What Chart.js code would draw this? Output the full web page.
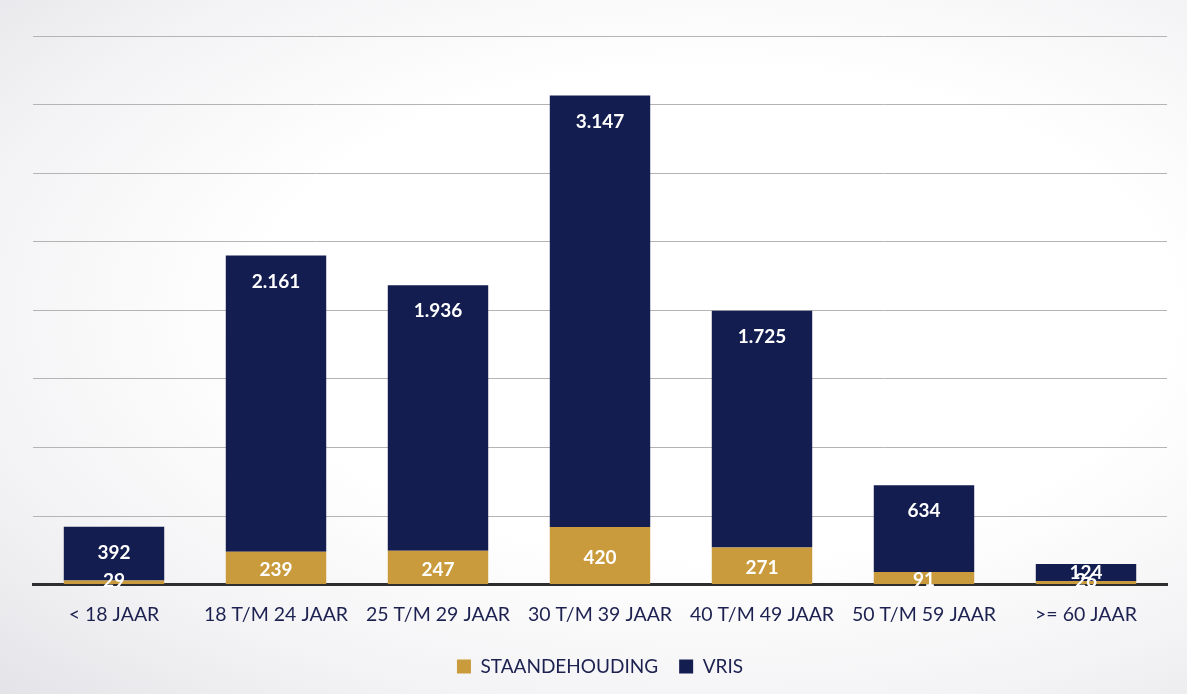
<!DOCTYPE html>
<html>
<head>
<meta charset="utf-8">
<script src="https://cdn.jsdelivr.net/npm/chart.js@4/dist/chart.umd.min.js"></script>
<style>
  html, body { margin: 0; padding: 0; }
  body {
    width: 1187px; height: 694px; overflow: hidden;
    background: radial-gradient(ellipse at 60% 45%, #ffffff 45%, #f3f3f5 75%, #e4e4e8 100%);
  }
  #wrap { width: 1187px; height: 694px; }
</style>
</head>
<body>
<div id="wrap"><canvas id="chart"></canvas></div>
<script>
// Chart data
const categories = ["< 18 JAAR", "18 T/M 24 JAAR", "25 T/M 29 JAAR", "30 T/M 39 JAAR", "40 T/M 49 JAAR", "50 T/M 59 JAAR", ">= 60 JAAR"];
const staandehouding = [29, 239, 247, 420, 271, 91, 26];
const vris = [392, 2161, 1936, 3147, 1725, 634, 124];

const navy = "#141d50";
const gold = "#c99b3d";
const textColor = "#1c2150";

// Dutch number format, 3147 -> 3.147
const fmt = v => v.toString().replace(/\B(?=(\d{3})+(?!\d))/g, ".");

// Draw the white value labels inside the bars
const barLabels = {
    id: "barLabels",
    afterDatasetsDraw(chart) {
        const ctx = chart.ctx;
        ctx.save();
        ctx.font = "bold 19px Lato, 'Open Sans', sans-serif";
        ctx.fillStyle = "#ffffff";
        ctx.textAlign = "center";
        ctx.textBaseline = "middle";
        chart.data.datasets.forEach((ds, i) => {
            chart.getDatasetMeta(i).data.forEach((bar, j) => {
                const val = ds.data[j];
                let y;
                if (i === 0) {
                    // centred in the gold segment
                    y = Math.min((bar.y + bar.base) / 2 + 2, bar.base - 3);
                } else {
                    // near the top of the navy segment
                    y = bar.y + 26;
                    if (bar.base - bar.y < 40) y = bar.y + 9;
                }
                ctx.fillText(fmt(val), bar.x, y);
            });
        });
        ctx.restore();
    }
};

new Chart(document.getElementById("chart"), {
    type: "bar",
    data: {
        labels: categories,
        datasets: [
            {
                label: "STAANDEHOUDING",
                data: staandehouding,
                backgroundColor: gold,
                categoryPercentage: 1.0,
                barPercentage: 0.62
            },
            {
                label: "VRIS",
                data: vris,
                backgroundColor: navy,
                categoryPercentage: 1.0,
                barPercentage: 0.62
            }
        ]
    },
    options: {
        responsive: true,
        maintainAspectRatio: false,
        animation: false,
        layout: { padding: { top: 36, left: 33, right: 20, bottom: 8 } },
        scales: {
            x: {
                stacked: true,
                grid: { display: false },
                border: { display: true, color: "#2e2e2e", width: 3 },
                ticks: {
                    color: textColor,
                    font: { family: "Lato, 'Open Sans', sans-serif", size: 19.5 },
                    padding: 10,
                    maxRotation: 0
                }
            },
            y: {
                stacked: true,
                min: 0,
                max: 4000,
                ticks: { display: false, stepSize: 500 },
                border: { display: false },
                grid: {
                    color: ctx => ctx.tick.value === 0 ? "rgba(0,0,0,0)" : "#b4b4b4",
                    lineWidth: 1,
                    drawTicks: false
                }
            }
        },
        plugins: {
            legend: {
                position: "bottom",
                labels: {
                    color: textColor,
                    font: { family: "Lato, 'Open Sans', sans-serif", size: 19 },
                    boxWidth: 14,
                    boxHeight: 14,
                    padding: 21
                }
            },
            tooltip: { enabled: false }
        }
    },
    plugins: [barLabels]
});
</script>
</body>
</html>
